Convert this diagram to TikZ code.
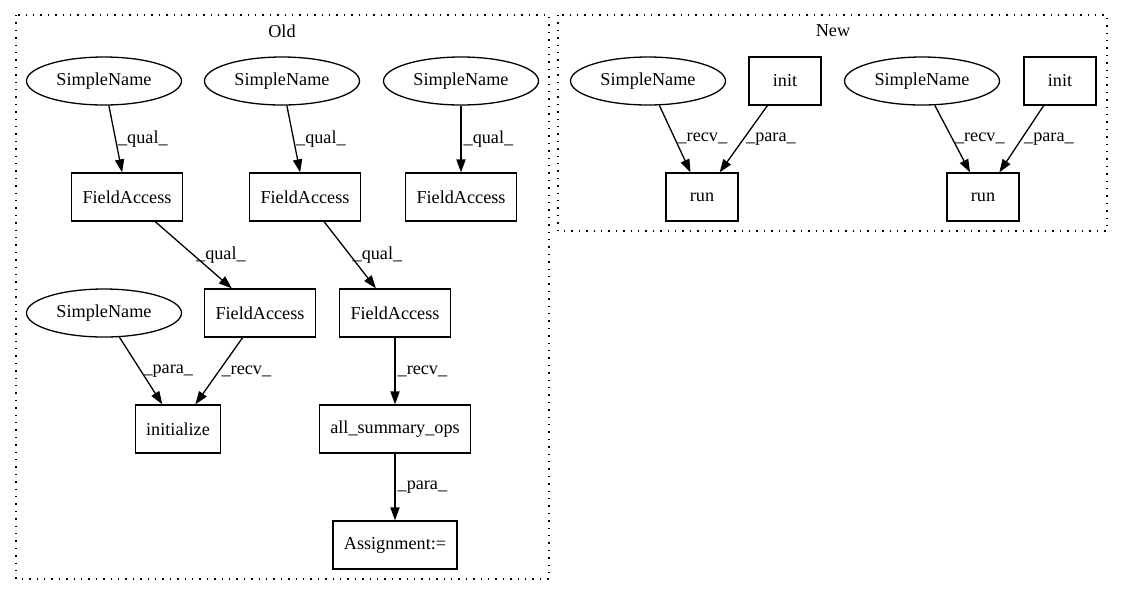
\documentclass[tikz,border=0pt]{standalone}
\usepackage{fontspec}
\setmainfont{Liberation Serif}
\usetikzlibrary{shapes.geometric,arrows.meta}

\begin{document}
\begin{tikzpicture}[x=0.5pt, y=-0.5pt,
    font=\fontsize{9.1}{11}\selectfont,
    sname/.style={draw, ellipse, line width=0.65pt, minimum width=77.5pt, minimum height=24pt, inner sep=0pt},
    fbox/.style={draw, rectangle, line width=0.65pt, minimum width=36pt, minimum height=24pt, inner xsep=5.5pt},
    flow/.style={-{Triangle[length=6.5pt,width=4.6pt]}, line width=0.65pt},
    elabel/.style={right, inner sep=1pt},
    cluster/.style={line width=0.65pt, dash pattern=on 0.7pt off 3pt}]
  \useasboundingbox (0,0) rectangle (1123,596);

  % Grupo Old
  \draw[cluster] (16,15) rectangle (549,579);
  \node (oldlbl) at (282,31) {Old};

  % Nos do grupo Old
  \node[sname] (sn1) at (104,81) {SimpleName};
  \node[sname] (sn2) at (282,81) {SimpleName};
  \node[sname] (sn3) at (461,81) {SimpleName};
  \node[fbox] (fa1) at (127,197) {FieldAccess};
  \node[fbox] (fa2) at (305,197) {FieldAccess};
  \node[fbox] (fa3) at (461,197) {FieldAccess};
  \node[sname] (sn4) at (104,313) {SimpleName};
  \node[fbox] (fa4) at (260,313) {FieldAccess};
  \node[fbox] (fa5) at (395,313) {FieldAccess};
  \node[fbox] (initz) at (178,429) {initialize};
  \node[fbox] (allops) at (395,429) {all\_summary\_ops};
  \node[fbox] (assign) at (395,545) {Assignment:=};

  % Arestas do grupo Old
  \draw[flow] (sn1) -- node[elabel] {\_qual\_} (fa1);
  \draw[flow] (sn2) -- node[elabel] {\_qual\_} (fa2);
  \draw[flow] (sn3) -- node[elabel] {\_qual\_} (fa3);
  \draw[flow] (fa1) -- node[elabel] {\_qual\_} (fa4);
  \draw[flow] (fa2) -- node[elabel] {\_qual\_} (fa5);
  \draw[flow] (sn4) -- node[elabel] {\_para\_} (initz);
  \draw[flow] (fa4) -- node[elabel] {\_recv\_} (initz);
  \draw[flow] (fa5) -- node[elabel] {\_recv\_} (allops);
  \draw[flow] (allops) -- node[elabel] {\_para\_} (assign);

  % Grupo New
  \draw[cluster] (558,15) rectangle (1107,231);
  \node (newlbl) at (833,31) {New};

  % Nos do grupo New
  \node[sname] (sn5) at (648,81) {SimpleName};
  \node[fbox] (init1) at (785,81) {init};
  \node[sname] (sn6) at (922,81) {SimpleName};
  \node[fbox] (init2) at (1060,81) {init};
  \node[fbox] (run1) at (702,197) {run};
  \node[fbox] (run2) at (983,197) {run};

  % Arestas do grupo New
  \draw[flow] (sn5) -- node[elabel] {\_recv\_} (run1);
  \draw[flow] (init1) -- node[elabel] {\_para\_} (run1);
  \draw[flow] (sn6) -- node[elabel] {\_recv\_} (run2);
  \draw[flow] (init2) -- node[elabel] {\_para\_} (run2);
\end{tikzpicture}
\end{document}
